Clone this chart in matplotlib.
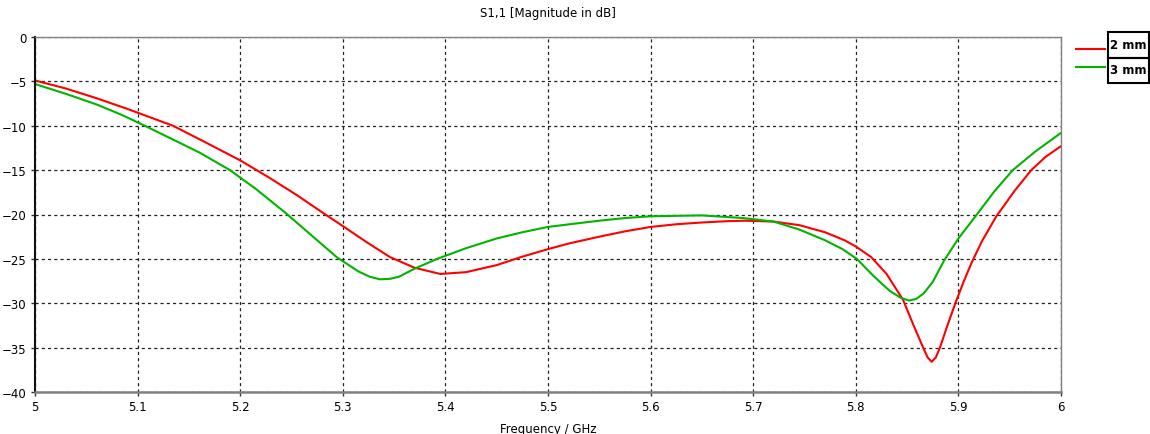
import numpy as np
import matplotlib
matplotlib.use("Agg")
import matplotlib.pyplot as plt
from matplotlib.lines import Line2D
from matplotlib.patches import Rectangle

# S11 magnitude (dB) versus frequency (GHz) for two thicknesses
freq_2mm = [5.000, 5.030, 5.060, 5.090, 5.1345, 5.165, 5.200, 5.229, 5.255, 5.283,
            5.300, 5.323, 5.346, 5.370, 5.395, 5.420, 5.450, 5.475, 5.500, 5.521,
            5.550, 5.575, 5.600, 5.625, 5.650, 5.675, 5.693, 5.720, 5.745, 5.770,
            5.789, 5.800, 5.815, 5.830, 5.846, 5.856, 5.866, 5.870, 5.874, 5.878,
            5.882, 5.889, 5.897, 5.905, 5.913, 5.923, 5.937, 5.955, 5.971, 5.985,
            6.000]
s11_2mm = [-4.9, -5.8, -6.9, -8.1, -10.0, -11.8, -13.9, -15.9, -17.8, -20.0,
           -21.3, -23.1, -24.8, -26.0, -26.7, -26.5, -25.7, -24.75, -23.9, -23.25,
           -22.5, -21.9, -21.4, -21.1, -20.9, -20.75, -20.7, -20.8, -21.2, -22.0,
           -22.9, -23.6, -24.8, -26.7, -29.6, -32.4, -35.1, -36.1, -36.6, -36.1,
           -35.0, -32.6, -30.0, -27.6, -25.4, -23.0, -20.2, -17.3, -15.0, -13.5,
           -12.3]

freq_3mm = [5.000, 5.030, 5.060, 5.085, 5.107, 5.130, 5.160, 5.190, 5.215, 5.229,
            5.245, 5.270, 5.294, 5.315, 5.326, 5.336, 5.346, 5.355, 5.370, 5.392,
            5.420, 5.450, 5.475, 5.500, 5.521, 5.550, 5.575, 5.600, 5.650, 5.690,
            5.720, 5.745, 5.770, 5.787, 5.801, 5.817, 5.833, 5.844, 5.852, 5.859,
            5.866, 5.875, 5.886, 5.900, 5.918, 5.935, 5.953, 5.975, 6.000]
s11_3mm = [-5.3, -6.4, -7.6, -8.8, -10.0, -11.3, -13.0, -15.0, -17.1, -18.4,
           -19.9, -22.4, -24.8, -26.4, -27.0, -27.3, -27.25, -27.0, -26.1, -25.0,
           -23.8, -22.7, -22.0, -21.4, -21.1, -20.7, -20.4, -20.2, -20.1, -20.4,
           -20.8, -21.7, -22.9, -23.9, -25.0, -26.9, -28.6, -29.4, -29.7, -29.5,
           -28.9, -27.6, -25.2, -22.7, -20.0, -17.4, -15.0, -12.9, -10.8]

labels = ["2 mm", "3 mm"]
colors = ["#ff0000", "#00b400"]

plt.rcParams['font.family'] = ['DejaVu Sans']
fig = plt.figure(figsize=(11.5, 4.35), dpi=100)
W, H = 1150.0, 435.0
ax = fig.add_axes([35 / W, (H - 393) / H, 1026 / W, 355 / H])

ax.plot(freq_2mm, s11_2mm, color=colors[0], lw=1.5)
ax.plot(freq_3mm, s11_3mm, color=colors[1], lw=1.5)

ax.set_xlim(5, 6)
ax.set_ylim(-40, 0)
ax.set_xticks(np.arange(5, 6.001, 0.1))
ax.set_xticklabels(["5", "5.1", "5.2", "5.3", "5.4", "5.5", "5.6", "5.7", "5.8", "5.9", "6"])
ax.set_yticks(np.arange(-40, 0.1, 5))
ax.tick_params(labelsize=8.5, length=3, width=1, color="#333333", pad=3)
ax.grid(True, color="#222222", linestyle=(0, (2.5, 2.5)), linewidth=0.9)

for side in ["top", "right", "bottom"]:
    ax.spines[side].set_color("#808080")
ax.spines["top"].set_linewidth(1.0)
ax.spines["right"].set_linewidth(1.0)
ax.spines["bottom"].set_linewidth(1.8)
ax.spines["left"].set_color("#111111")
ax.spines["left"].set_linewidth(1.5)

ax.set_title("S1,1 [Magnitude in dB]", fontsize=8.5, pad=15)
ax.set_xlabel("Frequency / GHz", fontsize=8.5, labelpad=6)

# legend drawn outside the axes: line samples plus boxed labels
line_y = [50, 68]
for i, (lab, c) in enumerate(zip(labels, colors)):
    y_top = 33 + i * 25.5
    fig.add_artist(Line2D([1076 / W, 1105 / W], [1 - line_y[i] / H] * 2,
                          color=c, lw=1.5))
    fig.add_artist(Rectangle((1108 / W, 1 - (y_top + 25.5) / H), 41 / W, 25.5 / H,
                             fill=False, edgecolor="black", lw=1.5))
    fig.text(1128.5 / W, 1 - (y_top + 12.5) / H, lab, ha="center", va="center",
             fontsize=8.5, fontweight="bold")

fig.savefig("out.png", dpi=100)
